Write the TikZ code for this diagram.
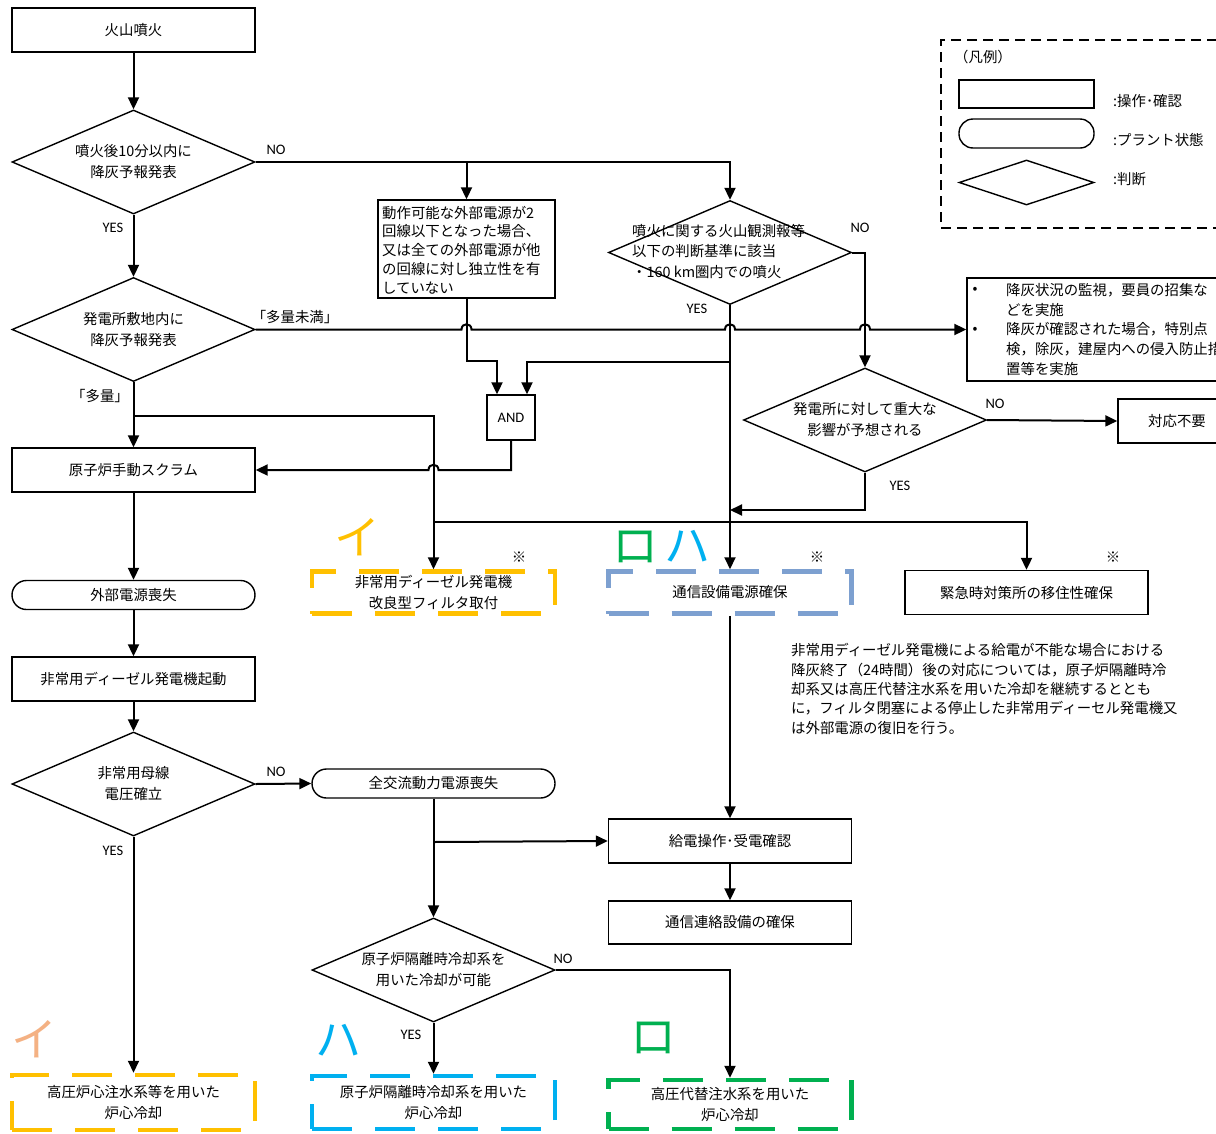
\documentclass[tikz,border=0pt]{standalone}
\usepackage{fontspec}
\setmainfont{Noto Sans CJK JP}
\newfontfamily\latfont{Carlito}
\usetikzlibrary{arrows.meta,shapes.geometric,calc}
\definecolor{ayellow}{HTML}{FFC000}
\definecolor{ablue}{HTML}{7DA0D0}
\definecolor{acyan}{HTML}{00B0F0}
\definecolor{agreen}{HTML}{00B050}
\definecolor{apeach}{HTML}{F4B183}

\begin{document}
\begin{tikzpicture}[x=1pt,y=-1pt,
  every node/.style={inner sep=0pt, font=\fontsize{14.4}{21}\selectfont},
  box/.style={draw, line width=1.4pt, minimum width=243pt, minimum height=44pt, align=center},
  pill/.style={draw, line width=1.4pt, rounded corners=14.5pt, minimum width=243pt, minimum height=29pt},
  dia/.style={draw, diamond, line width=1.4pt, minimum width=243pt, minimum height=104pt},
  dbox/.style={line width=4.5pt, dash pattern=on 40pt off 23pt, minimum width=243pt, align=center},
  wire/.style={line width=2pt},
  flow/.style={wire, -{Triangle[length=12pt,width=11pt]}},
  yn/.style={font=\latfont\fontsize{14.5}{16}\selectfont},
  kana/.style={font=\fontsize{46}{46}\selectfont},
]
\fill[white] (0,0) rectangle (1216,1133);
\useasboundingbox (0,0) rectangle (1216,1133);

% ---------- legend ----------
\node[draw, line width=1.3pt, dash pattern=on 10pt off 6pt, minimum width=300pt, minimum height=188pt] (leg) at (1091,134) {};
\node (legt) at (983,57) {（凡例）};
\node[draw, line width=1.4pt, minimum width=135pt, minimum height=28pt] (legr) at (1026.5,94) {};
\node[draw, line width=1.4pt, rounded corners=14pt, minimum width=135pt, minimum height=29pt] (legp) at (1026.5,133.5) {};
\node[draw, diamond, line width=1.4pt, minimum width=135pt, minimum height=45pt] (legd) at (1026.5,182.5) {};
\node[anchor=west] (legrt) at (1113,101) {:操作･確認};
\node[anchor=west] (legpt) at (1113,140) {:プラント状態};
\node[anchor=west] (legdt) at (1113,179) {:判断};

% ---------- left column ----------
\node[box] (n1) at (133.5,30) {火山噴火};
\node[dia] (d1) at (133.5,162) {};
\node[align=center] (d1t) at (d1) {噴火後10分以内に\\降灰予報発表};
\node[dia] (d3) at (133.5,329.5) {};
\node[align=center] (d3t) at (d3) {発電所敷地内に\\降灰予報発表};
\node[box] (scram) at (133.5,470) {原子炉手動スクラム};
\node[pill] (gaibu) at (133.5,595) {外部電源喪失};
\node[box] (dg) at (133.5,679) {非常用ディーゼル発電機起動};
\node[dia] (d5) at (133.5,784) {};
\node[align=center] (d5t) at (d5) {非常用母線\\電圧確立};
\node[dbox, draw=ayellow, minimum height=55pt] (b1) at (133.5,1102.5) {高圧炉心注水系等を用いた\\炉心冷却};

% ---------- middle ----------
\node[draw, line width=1.4pt, minimum width=177pt, minimum height=98pt] (b4) at (466.5,249) {};
\node[anchor=west, align=left, font=\fontsize{14.4}{18.8}\selectfont] (b4t) at (382,250)
  {動作可能な外部電源が2\\回線以下となった場合、\\又は全ての外部電源が他\\の回線に対し独立性を有\\していない};
\node[draw, line width=1.4pt, minimum width=48pt, minimum height=45pt, font=\latfont\fontsize{14.5}{16}\selectfont] (and) at (511,417.5) {AND};
\node[dbox, draw=ayellow, minimum height=42pt] (ibox) at (433.5,592.5) {非常用ディーゼル発電機\\改良型フィルタ取付};
\node[pill] (zen) at (433.5,783.5) {全交流動力電源喪失};
\node[dia] (d6) at (433.5,970) {};
\node[align=center] (d6t) at (d6) {原子炉隔離時冷却系を\\用いた冷却が可能};
\node[dbox, draw=acyan, minimum height=53pt] (b3) at (433.5,1102.5) {原子炉隔離時冷却系を用いた\\炉心冷却};

% ---------- right-middle ----------
\node[dia] (d2) at (730,252.5) {};
\node[anchor=west, align=left, font=\fontsize{14.4}{20.5}\selectfont] (d2t) at (632,251.5)
  {噴火に関する火山観測報等\\以下の判断基準に該当\\・160 km圏内での噴火};
\node[dia] (d4) at (865,420) {};
\node[align=center] (d4t) at (d4) {発電所に対して重大な\\影響が予想される};
\node[dbox, draw=ablue, minimum height=42pt] (tsu) at (730,592.5) {通信設備電源確保};
\node[box] (kin) at (1026.5,592.5) {緊急時対策所の移住性確保};
\node[box, minimum width=118pt] (nr) at (1177,421) {対応不要};
\node[box] (kyu) at (730,841) {給電操作･受電確認};
\node[box, minimum height=43pt] (tsr) at (730,922.5) {通信連絡設備の確保};
\node[dbox, draw=agreen, minimum height=49pt] (b2) at (730,1104.5) {高圧代替注水系を用いた\\炉心冷却};

% bullet box
\node[draw, line width=1.4pt, minimum width=263pt, minimum height=103pt] (bul) at (1098.5,329.5) {};
\node (bu1) at (975,290) {•};
\node (bu2) at (975,330) {•};
\node[anchor=west, align=left, font=\fontsize{14.4}{19.8}\selectfont] (bult) at (1006,329.5)
  {降灰状況の監視，要員の招集な\\どを実施\\降灰が確認された場合，特別点\\検，除灰，建屋内への侵入防止措\\置等を実施};

% note
\node[anchor=west, align=left, font=\fontsize{14.4}{19.4}\selectfont] (note) at (791,689)
  {非常用ディーゼル発電機による給電が不能な場合における\\降灰終了（24時間）後の対応については，原子炉隔離時冷\\却系又は高圧代替注水系を用いた冷却を継続するととも\\に，フィルタ閉塞による停止した非常用ディーセル発電機又\\は外部電源の復旧を行う。};

% ---------- marks ----------
\node (k1) at (519,557) {※};
\node (k2) at (817,557) {※};
\node (k3) at (1113,557) {※};

\node[kana, text=ayellow] (ka1) at (357,537) {イ};
\node[kana, text=agreen] (ka2) at (635,547) {ロ};
\node[kana, text=acyan] (ka3) at (687,546) {ハ};
\node[kana, text=apeach] (ka4) at (34,1039) {イ};
\node[kana, text=acyan] (ka5) at (338,1040) {ハ};
\node[kana, text=agreen] (ka6) at (653,1038) {ロ};

% ---------- branch labels ----------
\node[yn] at (276,150) {NO};
\node[yn] at (113,228) {YES};
\node[yn] at (860,228) {NO};
\node[yn] at (697,309) {YES};
\node at (295,317) {「多量未満」};
\node at (100,396) {「多量」};
\node[yn] at (995,404) {NO};
\node[yn] at (900,486) {YES};
\node[yn] at (276,772) {NO};
\node[yn] at (113,851) {YES};
\node[yn] at (563,959) {NO};
\node[yn] at (411,1035) {YES};

% ---------- connectors ----------
\coordinate (j1) at (133.5,416);
\coordinate (j2) at (730,362);
\coordinate (j3) at (730,510);
\coordinate (j4) at (433.5,522);
\coordinate (j5) at (433.5,842);

\draw[flow] (n1) -- (d1);
\draw[flow] (d1.east) -| (d2.north);
\draw[flow] (d1.east -| b4.north) -- (b4.north);
\draw[flow] (d1) -- (d3);

% "less than heavy" branch, hopping over three verticals
\draw[flow] (d3.east) -- (461.5,329.5) .. controls (461.5,322.5) and (471.5,322.5) .. (471.5,329.5)
  -- (725,329.5) .. controls (725,322.5) and (735,322.5) .. (735,329.5)
  -- (860,329.5) .. controls (860,322.5) and (870,322.5) .. (870,329.5) -- (bul.west);

\draw[flow] (d3) -- (scram);
\draw[flow] (j1) -| (ibox.north);

\draw[flow] (b4.south) |- ($(and.north)+(-14,-33)$) -- ($(and.north)+(-14,0)$);
\draw[flow] (j2) -| ($(and.north)+(16,0)$);
\draw[flow] (and.south) -- (511,470) -- (438.5,470) .. controls (438.5,463) and (428.5,463) .. (428.5,470) -- (scram.east);

\draw[flow] (d2.south) -- (tsu.north);
\draw[flow] (d2.east) -| (d4.north);
\draw[flow] (d4.east) -- (nr.west);
\draw[flow] (d4.south) |- (j3);
\draw[flow] (j4) -| (kin.north);

\draw[flow] (scram) -- (gaibu);
\draw[flow] (gaibu) -- (dg);
\draw[flow] (dg) -- (d5);
\draw[flow] (d5.east) -- (zen.west);
\draw[flow] (d5) -- (b1);

\draw[flow] (zen) -- (d6);
\draw[flow] (j5) -- (kyu.west);
\draw[flow] (tsu) -- (kyu);
\draw[flow] (kyu) -- (tsr);
\draw[flow] (d6) -- (b3);
\draw[flow] (d6.east) -| (b2.north);
\end{tikzpicture}
\end{document}
